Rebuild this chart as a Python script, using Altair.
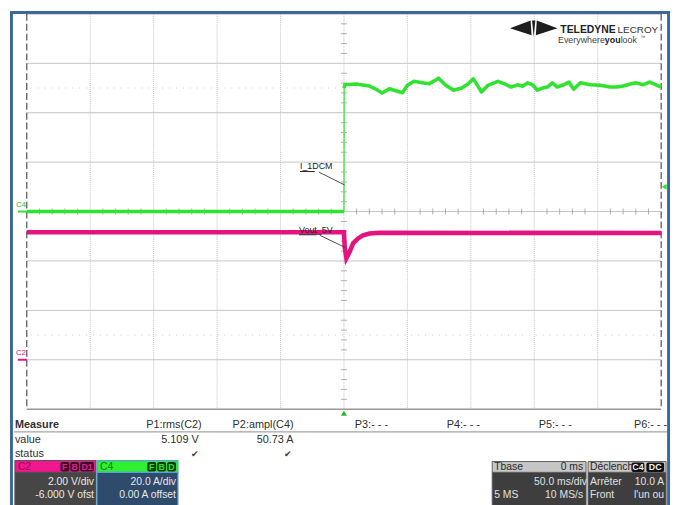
import altair as alt
import pandas as pd

# ---------------- waveform data ----------------
# C4 : I_1DCM current (A) versus time (ms)   -> 20 A/div, 0 A offset
c4_time = [-250, 0, 0.2, 0.6, 9.7, 20.1, 25.3, 30.0, 35.7, 40.9, 46.1, 50.0, 55.2, 61.7, 66.8,
           72.0, 74.6, 79.8, 86.3, 92.8, 98.0, 101.9, 104.5, 108.4, 113.5, 121.3, 126.6, 131.8,
           136.9, 140.8, 144.7, 148.6, 152.5, 156.4, 160.3, 164.2, 168.1, 173.3, 177.2, 181.1,
           186.3, 194.1, 201.9, 209.7, 214.8, 220.0, 226.5, 230.4, 235.6, 240.8, 244.7, 250]
c4_amp = [0, 0, 50.0, 51.3, 51.6, 50.8, 49.5, 48.0, 49.7, 48.9, 48.1, 51.1, 52.7, 52.1, 51.7,
          53.1, 54.0, 51.3, 49.1, 50.0, 51.7, 53.7, 51.7, 48.4, 51.1, 52.7, 51.7, 50.4,
          51.3, 50.7, 52.1, 51.3, 49.1, 50.0, 50.4, 52.1, 50.4, 51.3, 52.4, 49.5,
          52.1, 51.3, 51.1, 50.4, 50.4, 50.8, 51.7, 52.1, 51.3, 52.4, 51.6, 50.4]
# C2 : Vout_5V (V) versus time (ms)   -> 2 V/div, -6 V offset
c2_time = [-250, 0, 0.6, 1.9, 4.5, 7.2, 11.1, 15.0, 20.1, 27.9, 250]
c2_volt = [5.16, 5.16, 4.55, 4.11, 4.37, 4.71, 4.91, 5.04, 5.11, 5.14, 5.13]

trigger_level_amp = 10.0

# annotation labels (time ms, screen divisions)
ann_text = ["I_1DCM", "Vout_5V"]
ann_t = [-34.7, -35.4]
ann_div = [0.92, -0.37]
ann_line_t1 = [-34.7, -35.4]
ann_line_t2 = [-23.0, -21.4]
ann_line_div = [0.81, -0.47]
lead_t1 = [-19.9, -19.1]
lead_div1 = [0.80, -0.48]
lead_t2 = [0.4, 0.4]
lead_div2 = [0.54, -0.72]

meas_head = ["P1:rms(C2)", "P2:ampl(C4)", "P3:- - -", "P4:- - -", "P5:- - -", "P6:- - -"]
meas_vals = ["5.109 V", "50.73 A"]

# ---------------- layout ----------------
OX, OY = 27, 11          # page position of the grid origin
W, H = 642, 400
GREEN = "#2fe32f"
MAG = "#e5137f"
FONT = "Liberation Sans, Arial, sans-serif"

XS = alt.Scale(domain=[-250, 250], nice=False, zero=False)
DIV = alt.Scale(domain=[-4, 4], nice=False, zero=False)
AMP = alt.Scale(domain=[-80, 80], nice=False, zero=False)
VOLT = alt.Scale(domain=[-2, 14], nice=False, zero=False)


def px_text(rows, align="left", weight="normal", font=FONT):
    df = pd.DataFrame(rows, columns=["px", "py", "label", "color", "size"])
    df["px"] = df["px"] - OX
    df["py"] = df["py"] - OY
    return alt.Chart(df).mark_text(align=align, baseline="middle", fontWeight=weight, font=font).encode(
        x=alt.X("px:Q", scale=None, axis=None), y=alt.Y("py:Q", scale=None, axis=None),
        text="label:N", color=alt.Color("color:N", scale=None), size=alt.Size("size:Q", scale=None))


def px_rect(rows, stroke="none", sw=0, corner=0, fill_opacity=1):
    df = pd.DataFrame(rows, columns=["x1", "y1", "x2", "y2", "fill"])
    for c in ["x1", "x2"]:
        df[c] = df[c] - OX
    for c in ["y1", "y2"]:
        df[c] = df[c] - OY
    return alt.Chart(df).mark_rect(stroke=stroke, strokeWidth=sw, cornerRadius=corner,
                                   fillOpacity=fill_opacity).encode(
        x=alt.X("x1:Q", scale=None, axis=None), x2="x2:Q",
        y=alt.Y("y1:Q", scale=None, axis=None), y2="y2:Q",
        fill=alt.Fill("fill:N", scale=None))


def px_rule(rows, dash=None, width=1):
    df = pd.DataFrame(rows, columns=["x1", "y1", "x2", "y2", "color"])
    for c in ["x1", "x2"]:
        df[c] = df[c] - OX
    for c in ["y1", "y2"]:
        df[c] = df[c] - OY
    kw = dict(strokeWidth=width)
    if dash:
        kw["strokeDash"] = dash
    return alt.Chart(df).mark_rule(**kw).encode(
        x=alt.X("x1:Q", scale=None, axis=None), x2="x2:Q",
        y=alt.Y("y1:Q", scale=None, axis=None), y2="y2:Q",
        color=alt.Color("color:N", scale=None))


layers = []

# ---- grid ----
vgrid = alt.Chart(pd.DataFrame({"t": [-200, -150, -100, -50, 0, 50, 100, 150, 200]})).mark_rule(
    color="#c2c2c2", strokeDash=[1, 1], strokeWidth=1).encode(
    x=alt.X("t:Q", scale=XS, axis=None), y=alt.value(0), y2=alt.value(H))
hgrid = alt.Chart(pd.DataFrame({"d": [-3, -2, -1, 0, 1, 2, 3]})).mark_rule(
    color="#c4c4c4", strokeWidth=1).encode(
    y=alt.Y("d:Q", scale=DIV, axis=None), x=alt.value(0), x2=alt.value(W))
cursor = alt.Chart(pd.DataFrame({"d": [2.5, -2.5]})).mark_rule(
    color="#c8c8c8", strokeDash=[1, 6], strokeWidth=1).encode(
    y=alt.Y("d:Q", scale=DIV, axis=None), x=alt.value(4), x2=alt.value(W - 4))
tick_t = [t for t in range(-240, 250, 10) if t % 50 != 0]
hticks = alt.Chart(pd.DataFrame({"t": tick_t, "d": 0})).mark_tick(
    orient="vertical", size=6, thickness=1, color="#909090").encode(
    x=alt.X("t:Q", scale=XS, axis=None), y=alt.Y("d:Q", scale=DIV, axis=None))
tick_d = [round(-4 + 0.2 * k, 1) for k in range(1, 40) if k % 5 != 0]
vticks = alt.Chart(pd.DataFrame({"t": 0, "d": tick_d})).mark_tick(
    orient="horizontal", size=6, thickness=1, color="#909090").encode(
    x=alt.X("t:Q", scale=XS, axis=None), y=alt.Y("d:Q", scale=DIV, axis=None))
layers += [vgrid, hgrid, cursor, hticks, vticks]

# grid border
layers.append(px_rule([[OX, OY, OX + W, OY, "#a0a0a0"], [OX, OY + H, OX + W, OY + H, "#606060"]], width=1))
layers.append(px_rule([[OX, OY, OX, OY + H, "#505050"], [OX + W, OY, OX + W, OY + H, "#505050"]],
                      dash=[7, 3], width=1.2))

# ---- traces ----
c4_df = pd.DataFrame({"t": c4_time, "amp": c4_amp, "i": range(len(c4_time))})
c2_df = pd.DataFrame({"t": c2_time, "volt": c2_volt, "i": range(len(c2_time))})
c4_base = alt.Chart(c4_df).encode(
    x=alt.X("t:Q", scale=XS, axis=None), y=alt.Y("amp:Q", scale=AMP, axis=None), order="i:Q")
c4_pre = c4_base.transform_filter("datum.i <= 1").mark_line(color=GREEN, strokeWidth=3.6)
c4_edge = c4_base.transform_filter("datum.i >= 1 && datum.i <= 2").mark_line(
    color="#5ee85e", strokeWidth=1.6)
c4_post = c4_base.transform_filter("datum.i >= 2").mark_line(
    color=GREEN, strokeWidth=3.6, strokeJoin="round")
c2_line = alt.Chart(c2_df).mark_line(color=MAG, strokeWidth=4.6).encode(
    x=alt.X("t:Q", scale=XS, axis=None), y=alt.Y("volt:Q", scale=VOLT, axis=None), order="i:Q")
layers += [c4_edge, c4_pre, c4_post, c2_line]

# ground markers
g4 = alt.Chart(pd.DataFrame({"amp": [0]})).mark_rule(color=GREEN, strokeWidth=2).encode(
    y=alt.Y("amp:Q", scale=AMP, axis=None), x=alt.value(-9), x2=alt.value(0))
g4t = alt.Chart(pd.DataFrame({"amp": [0]})).mark_text(
    text="C4", color="#30c030", fontSize=8, font=FONT, align="left", dy=-7).encode(
    y=alt.Y("amp:Q", scale=AMP, axis=None), x=alt.value(-11))
g2 = alt.Chart(pd.DataFrame({"volt": [0]})).mark_rule(color=MAG, strokeWidth=2).encode(
    y=alt.Y("volt:Q", scale=VOLT, axis=None), x=alt.value(-9), x2=alt.value(0))
g2t = alt.Chart(pd.DataFrame({"volt": [0]})).mark_text(
    text="C2", color=MAG, fontSize=8, font=FONT, align="left", dy=-7).encode(
    y=alt.Y("volt:Q", scale=VOLT, axis=None), x=alt.value(-11))
trig_lvl = alt.Chart(pd.DataFrame({"amp": [trigger_level_amp]})).mark_point(
    shape="triangle-left", filled=True, size=35, color=GREEN, opacity=1).encode(
    y=alt.Y("amp:Q", scale=AMP, axis=None), x=alt.value(W + 3))
trig_t = alt.Chart(pd.DataFrame({"t": [0]})).mark_point(
    shape="triangle-up", filled=True, size=35, color="#22bb22", opacity=1).encode(
    x=alt.X("t:Q", scale=XS, axis=None), y=alt.value(H + 4))
layers += [g4, g4t, g2, g2t, trig_lvl, trig_t]

# trace annotations
ann_df = pd.DataFrame({"t": ann_t, "d": ann_div, "label": ann_text})
ann = alt.Chart(ann_df).mark_text(align="left", baseline="middle", fontSize=9, font=FONT,
                                  color="#222222").encode(
    x=alt.X("t:Q", scale=XS, axis=None), y=alt.Y("d:Q", scale=DIV, axis=None), text="label:N")
und = alt.Chart(pd.DataFrame({"t1": ann_line_t1, "t2": ann_line_t2, "d": ann_line_div})).mark_rule(
    color="#222222", strokeWidth=1).encode(
    x=alt.X("t1:Q", scale=XS, axis=None), x2="t2:Q", y=alt.Y("d:Q", scale=DIV, axis=None))
lead = alt.Chart(pd.DataFrame({"t1": lead_t1, "t2": lead_t2, "d1": lead_div1, "d2": lead_div2})).mark_rule(
    color="#222222", strokeWidth=0.8).encode(
    x=alt.X("t1:Q", scale=XS, axis=None), x2="t2:Q",
    y=alt.Y("d1:Q", scale=DIV, axis=None), y2="d2:Q")
layers += [ann, und, lead]

# ---- logo ----
logo_path = ("M -1 0.0 L -0.13 -0.33 L -0.09 0.3 Z "
             "M 1 0.0 L 0.13 -0.33 L 0.09 0.3 Z "
             "M -0.07 -0.33 L 0.07 -0.33 L 0 0.36 Z")
logo = alt.Chart(pd.DataFrame({"px": [540 - OX], "py": [25.5 - OY]})).mark_point(
    shape=logo_path, filled=True, size=2300, color="#1e1e1e", opacity=1).encode(
    x=alt.X("px:Q", scale=None, axis=None), y=alt.Y("py:Q", scale=None, axis=None))
layers.append(logo)
layers.append(px_text([[567, 27, "TELEDYNE", "#222222", 10.5]], weight="bold"))
layers.append(px_text([[666, 27, "LECROY", "#333333", 10]], align="right"))
layers.append(px_text([[612, 37, "Everywhere", "#444444", 9]], align="right"))
layers.append(px_text([[628, 37, "look", "#444444", 9], [648, 34, "™", "#444444", 5]]))
layers.append(px_text([[612, 37, "you", "#222222", 9]], weight="bold"))

# ---- measure table ----
TC = "#303030"
layers.append(px_rule([[14, 434, 676, 434, "#8c8c8c"]], width=1))
layers.append(px_text([[15, 427, "Measure", TC, 11]], weight="bold"))
layers.append(px_text([[15, 442, "value", TC, 11], [15, 456, "status", TC, 11],
                       [359, 427, meas_head[2], TC, 11], [452, 427, meas_head[3], TC, 11],
                       [545, 427, meas_head[4], TC, 11]]))
layers.append(px_text([[204, 427, meas_head[0], TC, 11], [297, 427, meas_head[1], TC, 11],
                       [675, 427, meas_head[5], TC, 11],
                       [201, 442, meas_vals[0], TC, 11], [297, 442, meas_vals[1], TC, 11],
                       [201, 456, "✔", "#404040", 9], [295, 456, "✔", "#404040", 9]], align="right"))

# ---- channel / timebase boxes ----
layers.append(px_rect([[15, 463, 97, 475, "#f0188c"], [15, 475, 97, 510, "#464646"]],
                      stroke="#505050", sw=1))
layers.append(px_rect([[98, 463, 180, 475, "#2ef02e"], [98, 475, 180, 510, "#2f4b6c"]],
                      stroke="#5aa0dc", sw=1.2))
layers.append(px_rect([[498, 464, 593, 475, "#c6c6c6"], [498, 475, 593, 510, "#3e3e3e"],
                       [595, 464, 674, 475, "#c6c6c6"], [595, 475, 674, 510, "#3e3e3e"]],
                      stroke="#606060", sw=1))
# badges
layers.append(px_rect([[61, 464.5, 70, 474, "#3c0c24"], [71, 464.5, 80, 474, "#3c0c24"],
                       [81, 464.5, 95, 474, "#3c0c24"],
                       [149, 464.5, 158, 474, "#0c3a0c"], [159, 464.5, 168, 474, "#0c3a0c"],
                       [169, 464.5, 178, 474, "#0c3a0c"],
                       [639, 465, 652, 474.5, "#111111"], [654, 465, 672, 474.5, "#111111"]], corner=2))
layers.append(px_text([[65.5, 469.5, "F", "#e0208a", 9], [75.5, 469.5, "B", "#e0208a", 9],
                       [88, 469.5, "D1", "#e0208a", 9],
                       [153.5, 469.5, "F", "#30e030", 9], [163.5, 469.5, "B", "#30e030", 9],
                       [173.5, 469.5, "D", "#30e030", 9],
                       [645.5, 469.5, "C4", "#f0f0f0", 9], [663, 469.5, "DC", "#f0f0f0", 9]],
                      align="center", weight="bold"))
layers.append(px_text([[18, 469.5, "C2", "#a0005a", 10.5], [101, 469.5, "C4", "#127a12", 10.5],
                       [500, 470, "Tbase", "#2a2a2a", 10.5], [597, 470, "Déclench", "#2a2a2a", 10.5],
                       [500, 498, "5 MS", "#e0e0e0", 10.5], [597, 485, "Arrêter", "#e0e0e0", 10.5],
                       [597, 498, "Front", "#e0e0e0", 10.5]]))
layers.append(px_text([[95, 485, "2.00 V/div", "#e8e8e8", 10.5], [95, 498, "-6.000 V ofst", "#e8e8e8", 10.5],
                       [178, 485, "20.0 A/div", "#e8e8e8", 10.5], [178, 498, "0.00 A offset", "#e8e8e8", 10.5],
                       [590, 470, "0 ms", "#2a2a2a", 10.5], [594, 485, "50.0 ms/div", "#e0e0e0", 10.5],
                       [590, 498, "10 MS/s", "#e0e0e0", 10.5],
                       [672, 485, "10.0 A", "#e0e0e0", 10.5], [672, 498, "l'un ou", "#e0e0e0", 10.5]],
                      align="right"))

# ---- outer blue frame ----
layers.append(px_rect([[11.5, 9.5, 676.5, 530, "#ffffff"]], stroke="#3e679a", sw=3, fill_opacity=0))

chart = alt.layer(*layers).resolve_scale(x="independent", y="independent").properties(
    width=W, height=H, autosize=alt.AutoSizeParams(type="none"),
    padding={"left": 19, "top": 3, "right": 14, "bottom": 94},
    background="white").configure_view(strokeWidth=0)

chart.save("out.html", embed_options={"renderer": "svg", "actions": False})
